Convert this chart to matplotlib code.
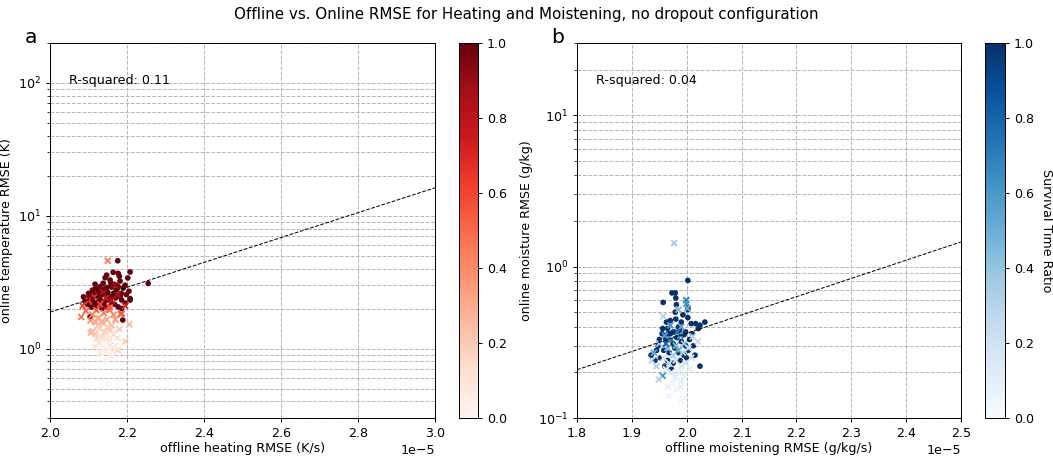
import matplotlib
matplotlib.use("Agg")
import matplotlib.pyplot as plt
import numpy as np

# x values are in units of 1e-5
XSCALE = 1e-5

# ---- panel a: heating / temperature ----
heat_dot_x = [2.176, 2.208, 2.255, 2.164, 2.177, 2.143, 2.147, 2.156, 2.182, 2.167,
              2.117, 2.130, 2.138, 2.087, 2.095, 2.208, 2.208, 2.186, 2.177, 2.177,
              2.186, 2.189, 2.104, 2.100, 2.110, 2.120, 2.125, 2.135, 2.140, 2.150,
              2.155, 2.160, 2.165, 2.170, 2.145, 2.130, 2.115, 2.105, 2.092, 2.098,
              2.110, 2.122, 2.140, 2.150, 2.160, 2.172, 2.190, 2.198, 2.202, 2.195,
              2.180, 2.158, 2.128, 2.145, 2.118, 2.108, 2.135, 2.152, 2.168, 2.185,
              2.112, 2.142, 2.162, 2.125, 2.148, 2.182, 2.196, 2.205, 2.090, 2.102]
heat_dot_y = [4.58, 3.77, 3.09, 3.75, 3.68, 3.41, 3.57, 3.28, 3.22, 3.04,
              3.05, 2.92, 3.10, 2.45, 2.32, 2.38, 2.32, 2.32, 2.92, 2.06,
              2.00, 1.64, 1.73, 2.60, 2.75, 2.50, 2.70, 2.55, 2.80, 2.65,
              2.45, 2.90, 2.60, 2.40, 2.30, 2.35, 2.20, 2.40, 2.25, 2.15,
              2.30, 2.10, 2.15, 2.05, 2.20, 2.75, 2.85, 2.55, 3.40, 3.00,
              3.50, 3.10, 2.60, 2.50, 2.85, 2.05, 2.00, 2.35, 2.15, 2.60,
              2.62, 2.68, 2.48, 2.25, 2.88, 2.45, 2.20, 2.70, 2.38, 2.50]

heat_x_x = [2.150, 2.081, 2.093, 2.184, 2.186, 2.206, 2.195, 2.176, 2.106, 2.111,
            2.138, 2.125, 2.156, 2.134, 2.147, 2.121, 2.117, 2.138, 2.156, 2.130,
            2.160, 2.147, 2.100, 2.115, 2.130, 2.145, 2.160, 2.175, 2.120, 2.140,
            2.155, 2.165, 2.110, 2.125, 2.148, 2.170, 2.135, 2.118, 2.160, 2.105,
            2.150, 2.128, 2.142, 2.165, 2.175, 2.118, 2.155, 2.170, 2.128, 2.145,
            2.162, 2.180, 2.195, 2.085, 2.138, 2.170, 2.155]
heat_x_y = [4.58, 1.73, 1.92, 1.81, 1.84, 1.52, 1.13, 0.97, 1.32, 1.35,
            1.55, 1.50, 1.37, 1.22, 1.19, 1.19, 1.03, 1.00, 1.06, 0.92,
            0.86, 0.82, 2.30, 2.45, 2.15, 2.40, 2.30, 2.55, 1.95, 1.85,
            1.95, 1.80, 1.80, 1.70, 1.65, 1.65, 1.60, 1.58, 1.50, 1.62,
            1.45, 1.42, 1.33, 1.28, 1.20, 1.28, 1.15, 1.05, 1.10, 0.95,
            0.95, 1.40, 2.10, 2.10, 2.65, 3.00, 2.05]
heat_x_r = [0.45, 0.45, 0.50, 0.50, 0.55, 0.25, 0.20, 0.15, 0.30, 0.25,
            0.25, 0.20, 0.20, 0.15, 0.12, 0.15, 0.08, 0.05, 0.10, 0.05,
            0.03, 0.02, 0.65, 0.70, 0.60, 0.75, 0.80, 0.85, 0.55, 0.45,
            0.50, 0.40, 0.40, 0.35, 0.30, 0.35, 0.30, 0.30, 0.25, 0.35,
            0.20, 0.20, 0.18, 0.15, 0.12, 0.20, 0.10, 0.08, 0.10, 0.05,
            0.06, 0.20, 0.70, 0.60, 0.85, 0.90, 0.55]

heat_fit = (0.936, -1.598)   # log10(y) = slope * x + intercept
heat_r2 = 0.11

# ---- panel b: moistening / moisture ----
moist_dot_x = [2.002, 1.973, 1.979, 1.980, 1.957, 2.002, 1.979, 2.002, 1.963, 1.970,
               1.990, 2.008, 2.016, 2.033, 2.021, 1.987, 1.995, 1.935, 2.024, 1.955,
               1.962, 1.970, 1.975, 1.982, 1.990, 1.998, 2.005, 2.010, 1.948, 1.958,
               1.968, 1.978, 1.985, 1.995, 2.003, 1.942, 1.952, 1.965, 1.975, 1.988,
               2.000, 1.960, 1.972, 1.945, 1.985, 1.965, 2.012, 1.998, 1.950, 1.980,
               1.993, 2.015, 1.981, 2.002, 2.024, 1.956, 1.966, 1.975]
moist_dot_y = [0.81, 0.67, 0.67, 0.62, 0.58, 0.54, 0.50, 0.46, 0.43, 0.44,
               0.43, 0.42, 0.42, 0.43, 0.39, 0.38, 0.355, 0.26, 0.22, 0.36,
               0.33, 0.36, 0.31, 0.34, 0.32, 0.30, 0.33, 0.36, 0.30, 0.28,
               0.27, 0.29, 0.27, 0.26, 0.28, 0.24, 0.25, 0.24, 0.23, 0.24,
               0.25, 0.22, 0.21, 0.28, 0.40, 0.39, 0.30, 0.37, 0.33, 0.45,
               0.48, 0.26, 0.56, 0.52, 0.41, 0.39, 0.36, 0.37]

moist_x_x = [1.977, 1.999, 1.999, 2.001, 1.957, 2.011, 2.020, 1.936, 1.940, 1.956,
             1.949, 1.966, 1.990, 1.990, 1.968, 1.994, 1.990, 1.985, 1.960, 1.972,
             1.980, 1.988, 1.995, 1.965, 1.975, 1.985, 1.993, 2.003, 1.958, 1.968,
             1.980, 1.990, 1.998, 1.972, 1.985, 1.978, 1.962, 2.005, 1.995, 1.975,
             1.982, 1.950, 1.990, 1.970, 2.008, 1.945, 1.983, 1.962]
moist_x_y = [1.43, 0.60, 0.57, 0.53, 0.47, 0.345, 0.32, 0.24, 0.27, 0.19,
             0.18, 0.16, 0.175, 0.16, 0.14, 0.135, 0.13, 0.52, 0.35, 0.33,
             0.30, 0.35, 0.31, 0.29, 0.26, 0.28, 0.27, 0.29, 0.25, 0.23,
             0.24, 0.22, 0.23, 0.20, 0.20, 0.185, 0.21, 0.21, 0.19, 0.17,
             0.155, 0.31, 0.40, 0.41, 0.25, 0.22, 0.37, 0.31]
moist_x_r = [0.35, 0.70, 0.60, 0.50, 0.30, 0.30, 0.25, 0.30, 0.55, 0.60,
             0.30, 0.10, 0.10, 0.08, 0.05, 0.05, 0.05, 0.45, 0.60, 0.70,
             0.50, 0.65, 0.40, 0.45, 0.35, 0.55, 0.30, 0.25, 0.20, 0.25,
             0.20, 0.15, 0.20, 0.15, 0.10, 0.10, 0.12, 0.10, 0.08, 0.05,
             0.05, 0.40, 0.55, 0.60, 0.20, 0.30, 0.75, 0.80]

moist_fit = (1.206, -2.852)
moist_r2 = 0.04


def draw_panel(ax, cax, dx, dy, xx, xy, xr, fit, r2, cmap, xlim, ylim,
               xlabel, ylabel, letter, cbar_label=None):
    ax.scatter(np.array(dx) * XSCALE, dy, c=np.ones(len(dx)), cmap=cmap, vmin=0, vmax=1,
               marker="o", s=12, zorder=3)
    sc = ax.scatter(np.array(xx) * XSCALE, xy, c=xr, cmap=cmap, vmin=0, vmax=1,
                    marker="x", s=22, linewidths=1.5, zorder=4)

    xs = np.linspace(xlim[0], xlim[1], 50)
    ax.plot(xs * XSCALE, 10 ** (fit[0] * xs + fit[1]), "k--", lw=0.8, zorder=5)

    ax.set_yscale("log")
    ax.set_xlim(xlim[0] * XSCALE, xlim[1] * XSCALE)
    ax.set_ylim(*ylim)
    ax.grid(True, which="both", linestyle="--", color="#b8b8b8", linewidth=0.8)
    ax.set_xlabel(xlabel, labelpad=1.5)
    ax.set_ylabel(ylabel)
    ax.text(0.05, 0.9, "R-squared: %.2f" % r2, transform=ax.transAxes,
            fontsize=10, va="center")
    ax.text(-0.05, 0.99, letter, transform=ax.transAxes, fontsize=16,
            ha="center", va="bottom")

    cb = plt.colorbar(sc, cax=cax)
    cb.set_ticks([0, 0.2, 0.4, 0.6, 0.8, 1.0])
    if cbar_label:
        cb.set_label(cbar_label, rotation=270, labelpad=15, fontsize=10)


DPI = 91
fig = plt.figure(figsize=(1053 / DPI, 456 / DPI), dpi=DPI)
ax_a = fig.add_axes([0.0475, 0.0833, 0.3656, 0.8227])
cax_a = fig.add_axes([0.436, 0.0833, 0.018, 0.8227])
ax_b = fig.add_axes([0.548, 0.0833, 0.3647, 0.8227])
cax_b = fig.add_axes([0.9355, 0.0833, 0.019, 0.8227])

draw_panel(ax_a, cax_a, heat_dot_x, heat_dot_y, heat_x_x, heat_x_y, heat_x_r,
           heat_fit, heat_r2, "Reds", (2.0, 3.0), (0.3, 200),
           "offline heating RMSE (K/s)", "online temperature RMSE (K)", "a")
draw_panel(ax_b, cax_b, moist_dot_x, moist_dot_y, moist_x_x, moist_x_y, moist_x_r,
           moist_fit, moist_r2, "Blues", (1.8, 2.5), (0.1, 30),
           "offline moistening RMSE (g/kg/s)", "online moisture RMSE (g/kg)", "b",
           cbar_label="Survival Time Ratio")

fig.suptitle("Offline vs. Online RMSE for Heating and Moistening, no dropout configuration",
             fontsize=12, y=0.985)

fig.savefig("out.png", dpi=DPI)
